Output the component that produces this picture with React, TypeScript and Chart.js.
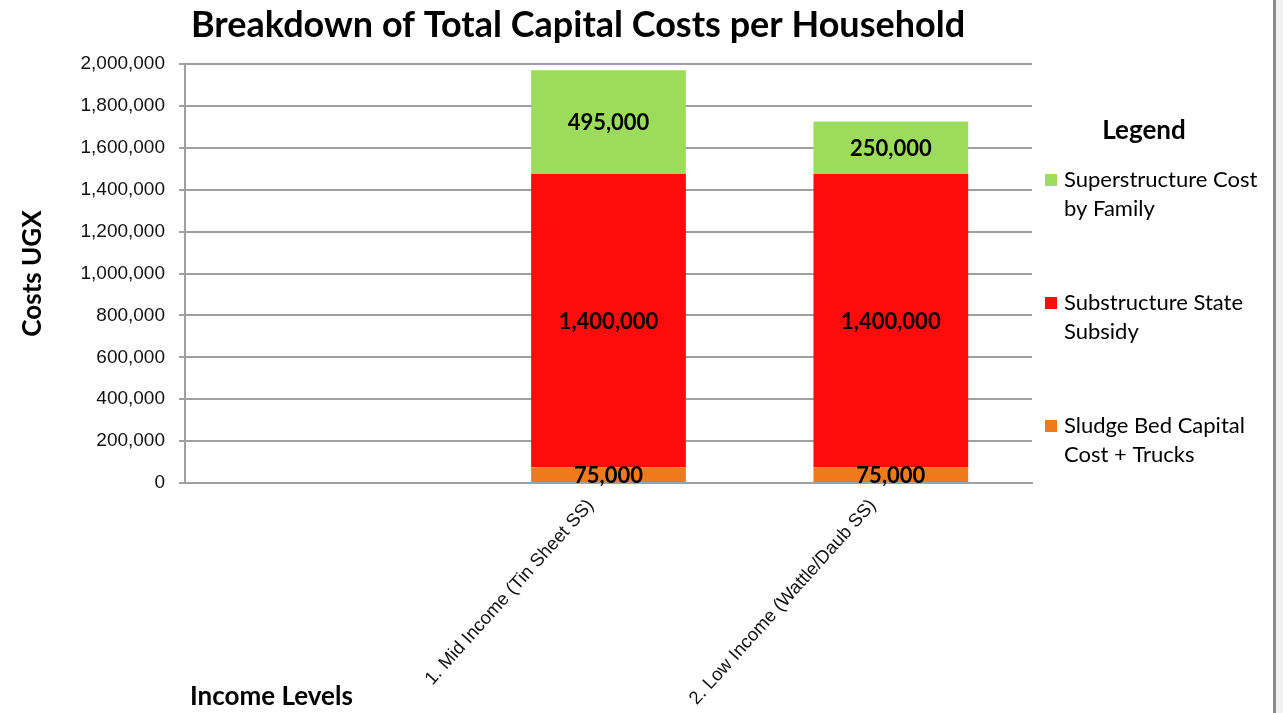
import React, { useEffect, useRef } from "react";
import { Chart, registerables } from "chart.js";

Chart.register(...registerables);

const categories = ["", "1. Mid Income (Tin Sheet SS)", "2. Low Income (Wattle/Daub SS)"];
const sludgeBed = [0, 75000, 75000];
const substructure = [0, 1400000, 1400000];
const superstructure = [0, 495000, 250000];
const seriesNames = ["Sludge Bed Capital Cost + Trucks", "Substructure State Subsidy", "Superstructure Cost by Family"];
const legendLines = [
  ["Superstructure Cost", "by Family"],
  ["Substructure State", "Subsidy"],
  ["Sludge Bed Capital", "Cost + Trucks"],
];
const COLORS = { sludge: "#EE7A1B", sub: "#FF0B0B", sup: "#9CDB5C" };

const W = 1273;
const H = 713;

const overlayPlugin = {
  id: "overlay",
  afterDatasetsDraw(chart: any) {
    const ctx = chart.ctx;
    ctx.save();
    ctx.fillStyle = "#000";
    ctx.font = "bold 22px Lato";
    ctx.textAlign = "center";
    ctx.textBaseline = "middle";
    chart.data.datasets.forEach((ds: any, di: number) => {
      const meta = chart.getDatasetMeta(di);
      meta.data.forEach((bar: any, i: number) => {
        const v = ds.data[i];
        if (!v) return;
        ctx.fillText(v.toLocaleString("en-US"), bar.x, (bar.y + bar.base) / 2 + 1);
      });
    });
    ctx.restore();
  },
  afterDraw(chart: any) {
    const ctx = chart.ctx;
    const area = chart.chartArea;
    ctx.save();
    ctx.fillStyle = "#000";
    // Title
    ctx.font = "bold 36px Lato";
    ctx.textAlign = "center";
    ctx.textBaseline = "middle";
    ctx.fillText("Breakdown of Total Capital Costs per Household", 578, 25);
    // Y axis title
    ctx.save();
    ctx.translate(33, (area.top + area.bottom) / 2);
    ctx.rotate(-Math.PI / 2);
    ctx.font = "bold 26px Lato";
    ctx.fillText("Costs UGX", 0, 0);
    ctx.restore();
    // X axis title
    ctx.font = "bold 26px Lato";
    ctx.textAlign = "left";
    ctx.fillText("Income Levels", 190, 697);
    // Legend
    ctx.textAlign = "center";
    ctx.font = "bold 26px Lato";
    ctx.fillText("Legend", 1144, 131);
    const colors = [COLORS.sup, COLORS.sub, COLORS.sludge];
    const ys = [180, 303, 426];
    ctx.font = "22px Lato";
    ctx.textAlign = "left";
    legendLines.forEach((lines, i) => {
      ctx.fillStyle = colors[i];
      ctx.fillRect(1045, ys[i] - 6, 12, 12);
      ctx.fillStyle = "#000";
      lines.forEach((t, j) => ctx.fillText(t, 1064, ys[i] + j * 29));
    });
    ctx.restore();
  },
};

export default function App() {
  const ref = useRef<HTMLCanvasElement | null>(null);
  useEffect(() => {
    document.body.style.margin = "0";
    const chart = new Chart(ref.current as HTMLCanvasElement, {
      type: "bar",
      data: {
        labels: categories,
        datasets: [
          { label: seriesNames[0], data: sludgeBed, backgroundColor: COLORS.sludge },
          { label: seriesNames[1], data: substructure, backgroundColor: COLORS.sub },
          { label: seriesNames[2], data: superstructure, backgroundColor: COLORS.sup },
        ],
      },
      options: {
        responsive: false,
        animation: false,
        devicePixelRatio: 1,
        layout: { padding: { top: 64, left: 80, right: W - 1032, bottom: 0 } },
        plugins: { legend: { display: false }, title: { display: false }, tooltip: { enabled: false } },
        datasets: { bar: { categoryPercentage: 1, barPercentage: 0.548, borderWidth: 0 } },
        scales: {
          x: {
            stacked: true,
            afterFit: (s: any) => { s.height = H - 483; },
            grid: { display: false, drawTicks: false },
            border: { color: "#A0A0A0", width: 2 },
            ticks: {
              autoSkip: false,
              minRotation: 48,
              maxRotation: 48,
              padding: 12,
              labelOffset: -18,
              color: "#111",
              font: { family: "'Liberation Sans', Arial", size: 18.5 },
            },
          },
          y: {
            stacked: true,
            min: 0,
            max: 2000000,
            afterFit: (s: any) => { s.width = 105; },
            ticks: {
              stepSize: 200000,
              padding: 14,
              color: "#111",
              font: { family: "'Liberation Sans', Arial", size: 19 },
              callback: (v: any) => Number(v).toLocaleString("en-US"),
            },
            grid: { color: "#A0A0A0", lineWidth: 2, tickLength: 6 },
            border: { color: "#A0A0A0", width: 2 },
          },
        },
      },
      plugins: [overlayPlugin],
    });
    return () => chart.destroy();
  }, []);
  return (
    <div style={{ position: "relative", width: 1283, height: H, background: "#f0f0f0", overflow: "hidden" }}>
      <canvas ref={ref} width={W} height={H} style={{ position: "absolute", left: 0, top: 0, width: W, height: H, background: "#fff" }} />
      <div style={{ position: "absolute", left: W, top: 0, width: 3, height: H, background: "#8c8c8c" }} />
    </div>
  );
}
